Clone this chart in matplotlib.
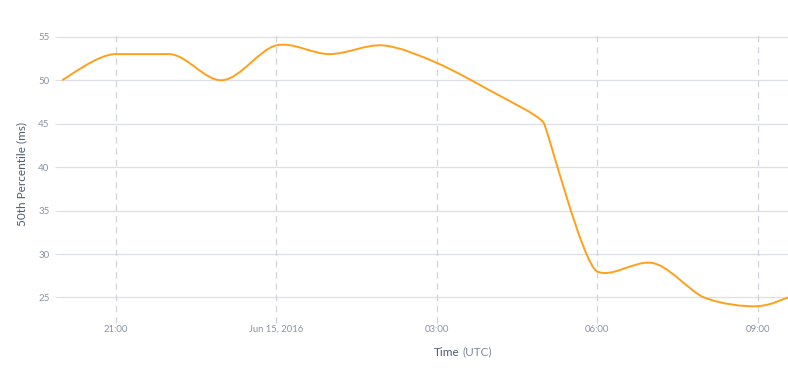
import numpy as np
import pandas as pd
import matplotlib
matplotlib.use('Agg')
import matplotlib.pyplot as plt
import matplotlib.dates as mdates
from matplotlib.path import Path
from matplotlib.patches import PathPatch

# hourly median latency
times = ['2016-06-14 20:00', '2016-06-14 21:00', '2016-06-14 22:00', '2016-06-14 23:00',
         '2016-06-15 00:00', '2016-06-15 01:00', '2016-06-15 02:00', '2016-06-15 03:00',
         '2016-06-15 04:00', '2016-06-15 05:00', '2016-06-15 06:00', '2016-06-15 07:00',
         '2016-06-15 08:00', '2016-06-15 09:00', '2016-06-15 09:34']
p50 = [50, 53, 53, 50, 54, 53, 54, 52, 48.8, 45.1, 28, 29, 25, 24, 25]

tick_times = ['2016-06-14 21:00', '2016-06-15 00:00', '2016-06-15 03:00',
              '2016-06-15 06:00', '2016-06-15 09:00']
tick_labels = ['21:00', 'Jun 15, 2016', '03:00', '06:00', '09:00']
y_ticks = [25, 30, 35, 40, 45, 50, 55]


def monotone_path(ax, x, y):
    # old d3 (v3) "monotone" line, worked out in screen pixels like the original
    pts = ax.transData.transform(np.column_stack([x, y]))
    px, py = pts[:, 0], pts[:, 1]
    n = len(px)
    d = np.diff(py) / np.diff(px)
    m = np.empty(n)
    m[0] = d[0]; m[-1] = d[-1]
    m[1:-1] = (d[:-1] + d[1:]) / 2
    for i in range(n - 1):
        if abs(d[i]) < 1e-6:
            m[i] = m[i+1] = 0
        else:
            a = m[i] / d[i]; b = m[i+1] / d[i]; s = a*a + b*b
            if s > 9:
                s = d[i] * 3 / np.sqrt(s)
                m[i] = s * a; m[i+1] = s * b
    tans = []
    for i in range(n):
        s = (px[min(n-1, i+1)] - px[max(0, i-1)]) / (6 * (1 + m[i]**2))
        tans.append((s, m[i] * s))
    tans = np.array(tans)
    verts = [pts[0]]
    codes = [Path.MOVETO]
    for i in range(1, n):
        verts += [pts[i-1] + tans[i-1], pts[i] - tans[i], pts[i]]
        codes += [Path.CURVE4] * 3
    verts = ax.transData.inverted().transform(np.array(verts))
    return Path(verts, codes)


t = mdates.date2num(pd.to_datetime(times))

fig = plt.figure(figsize=(7.88, 3.74), dpi=100)
ax = fig.add_axes([62/788, 1 - 314/374, 1 - 62/788, (314 - 35)/374])
ax.set_xlim(mdates.date2num(pd.Timestamp('2016-06-14 20:00')),
            mdates.date2num(pd.Timestamp('2016-06-15 09:34')))
ax.set_ylim(23.1, 55.2)

grid_c = '#dcdfe6'
for v in y_ticks:
    ax.axhline(v, color=grid_c, lw=0.9, zorder=1)
tt = mdates.date2num(pd.to_datetime(tick_times))
for v in tt:
    ax.axvline(v, ymin=-0.033, ymax=1.0, color='#cfd3db', lw=0.9,
               ls=(0, (5, 4)), zorder=1, clip_on=False)

ax.add_patch(PathPatch(monotone_path(ax, t, p50), facecolor='none',
                       edgecolor='#ffa01c', lw=1.4, zorder=3))

for s in ax.spines.values():
    s.set_visible(False)

font = 'Lato'
ax.set_yticks(y_ticks)
ax.set_yticklabels([str(v) for v in y_ticks], fontsize=7, color='#8a93a3', family=font)
ax.tick_params(axis='y', length=5, color=grid_c, pad=4)
ax.set_xticks(tt)
ax.set_xticklabels(tick_labels, fontsize=6.8, color='#8a93a3', family=font)
ax.tick_params(axis='x', length=0, pad=8)

ax.set_ylabel('50th Percentile (ms)', fontsize=8.5, color='#4d5b70', family=font, labelpad=8)

fig.text(434/788, 1 - 352/374, 'Time', fontsize=8.5, color='#4d5b70', family=font,
         ha='left', va='center')
fig.text(462/788, 1 - 352/374, '(UTC)', fontsize=8.5, color='#7d879a', family=font,
         ha='left', va='center')

fig.savefig('out.png', dpi=100)
